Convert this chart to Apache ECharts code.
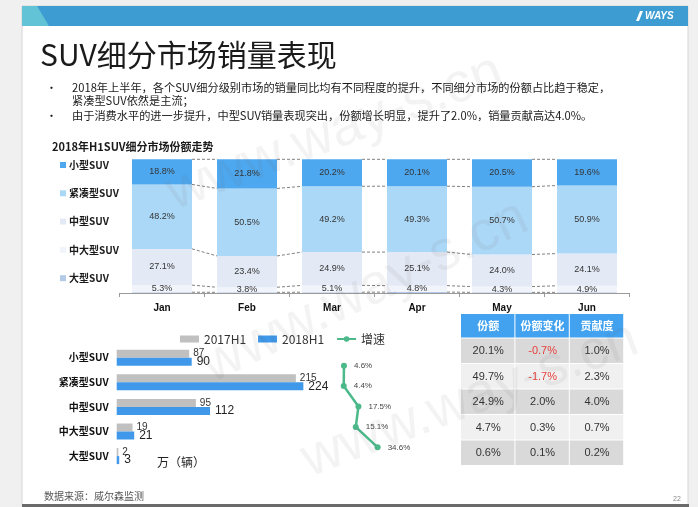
<!DOCTYPE html>
<html><head><meta charset="utf-8">
<script src="https://cdn.jsdelivr.net/npm/echarts@6/dist/echarts.min.js"></script>
<style>html,body{margin:0;padding:0;background:#f0f0f0}#c{width:698px;height:507px}</style>
</head><body><div id="c"></div>
<script>
// ---------- data ----------
const months = ['Jan','Feb','Mar','Apr','May','Jun'];
const segNames = ['小型SUV','紧凑型SUV','中型SUV','中大型SUV','大型SUV'];
const smallShare    = [18.8, 21.8, 20.2, 20.1, 20.5, 19.6];
const compactShare  = [48.2, 50.5, 49.2, 49.3, 50.7, 50.9];
const midShare      = [27.1, 23.4, 24.9, 25.1, 24.0, 24.1];
const midLargeShare = [5.3, 3.8, 5.1, 4.8, 4.3, 4.9];
const largeShare    = [0.6, 0.5, 0.6, 0.7, 0.5, 0.5];

const salesCats = ['小型SUV','紧凑型SUV','中型SUV','中大型SUV','大型SUV'];
const sales2017 = [87, 215, 95, 19, 2];
const sales2018 = [90, 224, 112, 21, 3];
const growthRate = [4.6, 4.4, 17.5, 15.1, 34.6];

const tableHeaders = ['份额','份额变化','贡献度'];
const tableShare  = [20.1, 49.7, 24.9, 4.7, 0.6];
const tableChange = [-0.7, -1.7, 2.0, 0.3, 0.1];
const tableContrib = [1.0, 2.3, 4.0, 0.7, 0.2];

const titleText = 'SUV细分市场销量表现';
const bulletLines = [
  '2018年上半年，各个SUV细分级别市场的销量同比均有不同程度的提升，不同细分市场的份额占比趋于稳定，',
  '紧凑型SUV依然是主流；',
  '由于消费水平的进一步提升，中型SUV销量表现突出，份额增长明显，提升了2.0%，销量贡献高达4.0%。'
];
const chartTitle = '2018年H1SUV细分市场份额走势';
const sourceText = '数据来源：威尔森监测';

// ---------- build ----------
const FONT = '"Noto Sans CJK SC","Noto Sans",sans-serif';
const NUMF = '"Liberation Sans",Arial,sans-serif';
const chart = echarts.init(document.getElementById('c'));

const BAR_W = 60;
const stackDefs = [
  {name:'大型SUV',   data: largeShare,    color:'#b3cbe7', label:false},
  {name:'中大型SUV', data: midLargeShare, color:'#f1f4fa', label:true},
  {name:'中型SUV',   data: midShare,      color:'#e3e9f5', label:true},
  {name:'紧凑型SUV', data: compactShare,  color:'#acd8f7', label:true},
  {name:'小型SUV',   data: smallShare,    color:'#4ea8ef', label:true}
];
const levels = stackDefs.map(d => d.data);
const cum = months.map((_, i) => { let s = 0; return levels.map(a => (s += a[i])); });
const connData = [];
for (let i = 0; i < months.length - 1; i++)
  for (let k = 0; k < levels.length; k++) connData.push([i, cum[i][k], cum[i + 1][k]]);

const series = stackDefs.map(d => ({
  name: d.name, type: 'bar', stack: 'share', xAxisIndex: 0, yAxisIndex: 0,
  barWidth: BAR_W, data: d.data, itemStyle: {color: d.color},
  label: {show: d.label, position: 'inside', fontSize: 9, color: '#333', fontFamily: NUMF,
          formatter: p => p.value.toFixed(1) + '%'}
}));
series.push({
  type: 'custom', name: 'conn', xAxisIndex: 0, yAxisIndex: 0, data: connData,
  encode: {x: 0, y: [1, 2]}, silent: true, z: 3,
  renderItem: (params, api) => {
    const i = api.value(0);
    const p1 = api.coord([i, api.value(1)]);
    const p2 = api.coord([i + 1, api.value(2)]);
    return {type: 'line', shape: {x1: p1[0] + BAR_W / 2, y1: p1[1], x2: p2[0] - BAR_W / 2, y2: p2[1]},
            style: {stroke: '#808080', lineWidth: 1, lineDash: [3, 2]}};
  }
});
series.push({
  name: '2017H1', type: 'bar', xAxisIndex: 1, yAxisIndex: 1, barWidth: 8, barGap: '0%',
  data: sales2017, itemStyle: {color: '#c0c0c0'},
  label: {show: true, position: 'right', distance: 4, fontSize: 10, color: '#333', fontFamily: NUMF}
});
series.push({
  name: '2018H1', type: 'bar', xAxisIndex: 1, yAxisIndex: 1, barWidth: 8, barGap: '0%',
  data: sales2018, itemStyle: {color: '#3f98e9'},
  label: {show: true, position: 'right', distance: 5, fontSize: 12, color: '#222', fontFamily: NUMF}
});
series.push({
  name: '增速', type: 'line', xAxisIndex: 2, yAxisIndex: 2,
  data: growthRate, symbol: 'circle', symbolSize: 6,
  lineStyle: {color: '#4cb98b', width: 2.5}, itemStyle: {color: '#4cb98b'},
  label: {show: true, position: 'right', distance: 7, fontSize: 8, color: '#444', fontFamily: NUMF,
          formatter: p => p.value.toFixed(1) + '%'}
});

// ---------- graphic (slide frame, texts, table, watermark) ----------
const g = [];
g.push({type:'rect', z:-10, shape:{x:22,y:6,width:666,height:499}, style:{fill:'#fff', stroke:'#d6d6d6', lineWidth:1}, silent:true});
g.push({type:'rect', z:-9, shape:{x:22,y:504,width:667,height:3}, style:{fill:'#6a6a6a'}, silent:true});
g.push({type:'rect', z:-8, shape:{x:22,y:6,width:666,height:20}, style:{fill:'#3d9cd1'}, silent:true});
g.push({type:'polygon', z:-7, shape:{points:[[22,6],[37,6],[49,26],[22,26]]}, style:{fill:'#62c2d6'}, silent:true});
g.push({type:'polygon', z:-7, shape:{points:[[636,21],[640,11],[643,11],[639,21]]}, style:{fill:'#fff'}, silent:true});
g.push({type:'text', z:-7, style:{text:'WAYS', x:645, y:16, fill:'#fff', font:'italic bold 10px ' + NUMF, textVerticalAlign:'middle', verticalAlign:'middle'}, silent:true});

g.push({type:'text', style:{text:titleText, x:40, y:55, fill:'#1a1a1a', font:'30px ' + FONT, textVerticalAlign:'middle', verticalAlign:'middle'}});
const bulletY = [88, 101, 116];
bulletLines.forEach((t, i) => {
  g.push({type:'text', style:{text:t, x:72, y:bulletY[i], fill:'#1a1a1a', font:'11.2px ' + FONT, textVerticalAlign:'middle', verticalAlign:'middle'}});
});
[0, 2].forEach(i => g.push({type:'text', style:{text:'•', x:46, y:bulletY[i], fill:'#1a1a1a', font:'11px ' + FONT, textVerticalAlign:'middle', verticalAlign:'middle'}}));
g.push({type:'text', style:{text:chartTitle, x:52, y:147, fill:'#1a1a1a', font:'bold 11px ' + FONT, textVerticalAlign:'middle', verticalAlign:'middle'}});
g.push({type:'text', style:{text:'万（辆）', x:157, y:462, fill:'#222', font:'12px ' + FONT, textVerticalAlign:'middle', verticalAlign:'middle'}});
g.push({type:'text', style:{text:sourceText, x:44, y:496, fill:'#555', font:'10px ' + FONT, textVerticalAlign:'middle', verticalAlign:'middle'}});
g.push({type:'text', style:{text:'22', x:673, y:499, fill:'#888', font:'7px ' + NUMF, textVerticalAlign:'middle', verticalAlign:'middle'}});

// table
const tX = 461, tY = 314, colW = 54.4, headH = 24.5, rowH = 25.5;
tableHeaders.forEach((h, c) => {
  g.push({type:'rect', shape:{x:tX + c * colW, y:tY, width:colW - 1, height:headH - 1}, style:{fill:'#42a2f0'}});
  g.push({type:'text', style:{text:h, x:tX + c * colW + colW / 2, y:tY + headH / 2, fill:'#fff', font:'bold 11px ' + FONT,
    textAlign:'center', align:'center', textVerticalAlign:'middle', verticalAlign:'middle'}});
});
const cols = [tableShare, tableChange, tableContrib];
tableShare.forEach((_, r) => {
  const y = tY + headH + r * rowH;
  cols.forEach((arr, c) => {
    const v = arr[r];
    g.push({type:'rect', shape:{x:tX + c * colW, y:y, width:colW - 1, height:rowH - 1}, style:{fill: r % 2 === 0 ? '#d9d9d9' : '#f0f0f0'}});
    g.push({type:'text', style:{text:v.toFixed(1) + '%', x:tX + c * colW + colW / 2, y:y + rowH / 2, fill: v < 0 ? '#e5403b' : '#333',
      font:'11px ' + NUMF, textAlign:'center', align:'center', textVerticalAlign:'middle', verticalAlign:'middle'}});
  });
});

// watermark
[[335, 133, 0.36], [365, 292, 0.45], [470, 400, 0.36]].forEach(w => {
  g.push({type:'text', z:100, silent:true, x:w[0], y:w[1], rotation:w[2],
    style:{text:'www.way-s.cn', x:0, y:0, fill:'rgba(90,90,90,0.075)', font:'56px ' + NUMF,
      textAlign:'center', align:'center', textVerticalAlign:'middle', verticalAlign:'middle'}});
});

const option = {
  animation: false,
  backgroundColor: '#f0f0f0',
  textStyle: {fontFamily: FONT},
  grid: [
    {left: 119.5, top: 159.3, width: 510, height: 133.7},
    {left: 116.7, top: 345.4, width: 250, height: 123},
    {left: 338.8, top: 355.5, width: 44.9, height: 102}
  ],
  xAxis: [
    {type: 'category', gridIndex: 0, data: months,
     axisLine: {lineStyle: {color: '#9a9a9a'}}, axisTick: {show: true, length: 4, lineStyle: {color: '#9a9a9a'}},
     axisLabel: {fontSize: 10, fontWeight: 'bold', color: '#111', margin: 10, fontFamily: NUMF}},
    {type: 'value', gridIndex: 1, min: 0, max: 300, show: false},
    {type: 'value', gridIndex: 2, min: 0, max: 40, show: false}
  ],
  yAxis: [
    {type: 'value', gridIndex: 0, min: 0, max: 100, show: false},
    {type: 'category', gridIndex: 1, data: salesCats, inverse: true,
     axisLine: {show: false}, axisTick: {show: false},
     axisLabel: {fontSize: 10, fontWeight: 'bold', color: '#111', margin: 8}},
    {type: 'category', gridIndex: 2, data: salesCats, inverse: true, show: false}
  ],
  legend: [
    {orient: 'vertical', left: 55, top: 155, itemGap: 18.3, itemWidth: 6, itemHeight: 6, icon: 'rect',
     data: segNames, selectedMode: false,
     textStyle: {fontSize: 10, fontWeight: 'bold', color: '#1a1a1a', padding: [0, 0, 0, -2]}},
    {orient: 'horizontal', left: 175, top: 328, itemGap: 12, itemWidth: 19, itemHeight: 7, selectedMode: false,
     data: [{name: '2017H1', icon: 'rect'}, {name: '2018H1', icon: 'rect'},
            {name: '增速', lineStyle: {type: 'dashed', width: 2}}],
     textStyle: {fontSize: 12, color: '#333', fontFamily: FONT}}
  ],
  graphic: {elements: g},
  series: series
};
chart.setOption(option);
</script></body></html>
